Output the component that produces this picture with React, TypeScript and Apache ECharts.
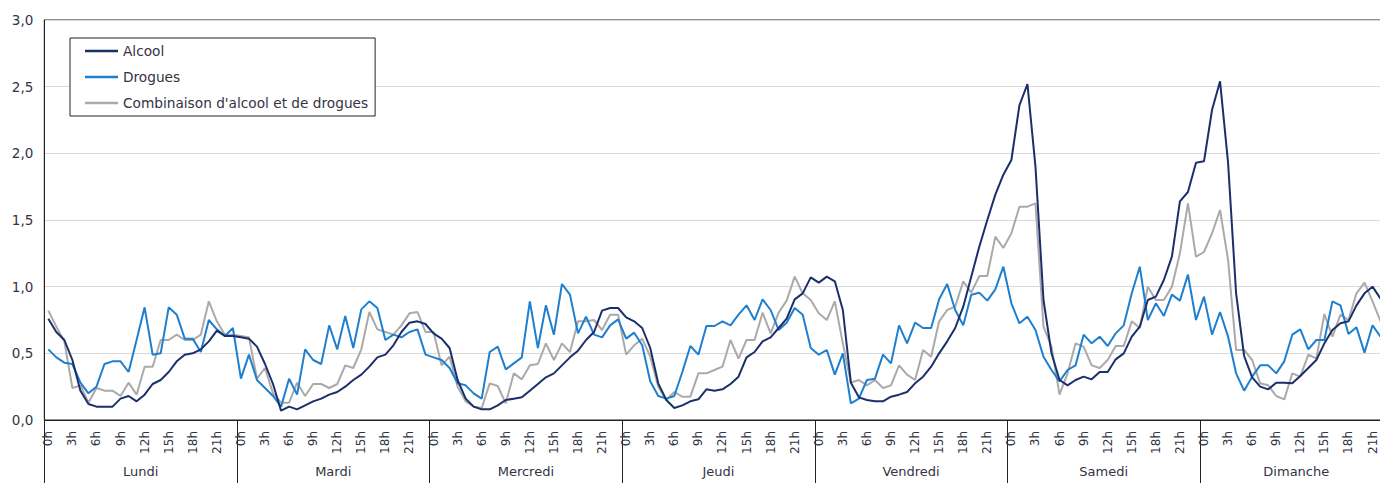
import React, { useEffect, useRef } from "react";
import * as echarts from "echarts";

const DAYS = ["Lundi", "Mardi", "Mercredi", "Jeudi", "Vendredi", "Samedi", "Dimanche"];
const HOURS = ["0h","1h","2h","3h","4h","5h","6h","7h","8h","9h","10h","11h","12h","13h","14h","15h","16h","17h","18h","19h","20h","21h","22h","23h"];
const SERIES_NAMES = ["Alcool", "Drogues", "Combinaison d'alcool et de drogues"];

const ALCOOL = [
  // Lundi
  0.76,0.66,0.60,0.45,0.22,0.12,0.10,0.10,0.10,0.16,0.18,0.14,0.19,0.27,0.30,0.36,0.44,0.49,0.50,0.53,0.59,0.67,0.63,0.63,
  // Mardi
  0.62,0.61,0.55,0.42,0.27,0.07,0.10,0.08,0.11,0.14,0.16,0.19,0.21,0.25,0.30,0.34,0.40,0.47,0.49,0.56,0.66,0.73,0.74,0.72,
  // Mercredi
  0.65,0.61,0.54,0.30,0.16,0.10,0.08,0.08,0.11,0.15,0.16,0.17,0.22,0.27,0.32,0.35,0.41,0.47,0.52,0.60,0.66,0.82,0.84,0.84,
  // Jeudi
  0.77,0.74,0.69,0.54,0.275,0.15,0.09,0.11,0.14,0.155,0.23,0.22,0.23,0.27,0.325,0.47,0.51,0.59,0.62,0.69,0.76,0.905,0.95,1.07,
  // Vendredi
  1.03,1.075,1.04,0.825,0.28,0.17,0.15,0.14,0.14,0.175,0.19,0.21,0.275,0.325,0.40,0.50,0.59,0.69,0.85,1.075,1.30,1.50,1.69,1.84,
  // Samedi
  1.95,2.36,2.52,1.90,0.90,0.50,0.30,0.26,0.30,0.325,0.305,0.36,0.36,0.455,0.50,0.625,0.70,0.90,0.925,1.05,1.225,1.64,1.71,1.93,
  // Dimanche
  1.94,2.325,2.54,1.93,0.95,0.48,0.32,0.25,0.23,0.28,0.28,0.275,0.33,0.39,0.45,0.575,0.675,0.725,0.74,0.86,0.95,1.0,0.91,0.87,
];

const DROGUES = [
  // Lundi
  0.53,0.47,0.43,0.42,0.28,0.20,0.25,0.42,0.44,0.44,0.36,0.60,0.845,0.49,0.50,0.845,0.79,0.61,0.61,0.51,0.75,0.68,0.63,0.69,
  // Mardi
  0.31,0.49,0.30,0.24,0.18,0.10,0.31,0.19,0.53,0.45,0.42,0.71,0.53,0.78,0.54,0.83,0.89,0.84,0.60,0.64,0.62,0.66,0.68,0.49,
  // Mercredi
  0.47,0.45,0.39,0.275,0.26,0.20,0.16,0.51,0.55,0.38,0.425,0.47,0.89,0.54,0.86,0.64,1.02,0.94,0.65,0.775,0.64,0.62,0.71,0.755,
  // Jeudi
  0.61,0.655,0.56,0.29,0.18,0.16,0.18,0.36,0.555,0.49,0.705,0.705,0.74,0.71,0.79,0.86,0.75,0.905,0.825,0.675,0.73,0.84,0.79,0.54,
  // Vendredi
  0.49,0.525,0.34,0.50,0.125,0.16,0.30,0.31,0.49,0.425,0.71,0.575,0.73,0.69,0.69,0.905,1.02,0.825,0.71,0.94,0.955,0.895,0.98,1.15,
  // Samedi
  0.875,0.725,0.775,0.675,0.475,0.375,0.29,0.375,0.41,0.64,0.575,0.625,0.555,0.65,0.71,0.95,1.15,0.75,0.875,0.78,0.94,0.895,1.09,0.75,
  // Dimanche
  0.925,0.64,0.81,0.625,0.35,0.22,0.325,0.41,0.41,0.35,0.44,0.64,0.68,0.53,0.60,0.60,0.89,0.86,0.645,0.695,0.505,0.71,0.625,0.65,
];

const COMBINAISON = [
  // Lundi
  0.82,0.70,0.59,0.24,0.26,0.13,0.24,0.22,0.22,0.18,0.28,0.19,0.40,0.40,0.60,0.60,0.64,0.60,0.60,0.64,0.89,0.74,0.64,0.64,
  // Mardi
  0.63,0.62,0.31,0.39,0.20,0.13,0.13,0.28,0.18,0.27,0.27,0.24,0.27,0.41,0.39,0.53,0.81,0.68,0.66,0.64,0.71,0.80,0.81,0.66,
  // Mercredi
  0.66,0.41,0.475,0.25,0.14,0.10,0.09,0.275,0.255,0.125,0.35,0.305,0.41,0.42,0.575,0.45,0.575,0.51,0.74,0.74,0.75,0.675,0.79,0.79,
  // Jeudi
  0.49,0.56,0.61,0.475,0.25,0.15,0.21,0.175,0.175,0.35,0.35,0.375,0.40,0.60,0.46,0.60,0.60,0.805,0.65,0.805,0.895,1.075,0.95,0.90,
  // Vendredi
  0.80,0.75,0.89,0.575,0.28,0.30,0.26,0.30,0.24,0.26,0.41,0.34,0.30,0.525,0.475,0.74,0.825,0.85,1.04,0.955,1.08,1.08,1.375,1.29,
  // Samedi
  1.40,1.60,1.60,1.625,0.70,0.55,0.19,0.35,0.575,0.55,0.41,0.39,0.45,0.555,0.555,0.74,0.69,1.0,0.90,0.90,1.0,1.25,1.625,1.225,
  // Dimanche
  1.26,1.40,1.575,1.20,0.525,0.525,0.45,0.275,0.26,0.18,0.155,0.35,0.325,0.49,0.46,0.795,0.625,0.79,0.75,0.95,1.03,0.89,0.74,0.70,
];

const FONT = "'DejaVu Sans', Verdana, sans-serif";
const TEXT_COLOR = "#333344";
const COLORS = ["#1b2f6b", "#1f7fcf", "#aaaaaa"];

export default function App() {
  const ref = useRef<HTMLDivElement>(null);

  useEffect(() => {
    if (!ref.current) return;
    const chart = echarts.init(ref.current, undefined, { renderer: "svg" });
    const categories: string[] = [];
    DAYS.forEach(() => HOURS.forEach((h) => categories.push(h)));

    const lineSeries = (name: string, data: number[], color: string, z: number) => ({
      name,
      type: "line",
      data,
      xAxisIndex: 0,
      yAxisIndex: 0,
      symbol: "none",
      showSymbol: false,
      z,
      lineStyle: { color, width: 2 },
      itemStyle: { color },
    });

    chart.setOption({
      animation: false,
      textStyle: { fontFamily: FONT },
      grid: {
        left: 44.3,
        right: 15.4,
        top: 20,
        bottom: 63,
        show: true,
        borderColor: "#222",
        borderWidth: 1,
        backgroundColor: "transparent",
      },
      legend: {
        orient: "vertical",
        left: 70,
        top: 38,
        padding: [6, 7, 6, 15],
        icon: "rect",
        itemWidth: 33,
        itemHeight: 2.5,
        itemGap: 12,
        borderColor: "#222",
        borderWidth: 1,
        backgroundColor: "#fff",
        textStyle: { fontFamily: FONT, fontSize: 13.7, lineHeight: 14, color: TEXT_COLOR },
        data: SERIES_NAMES.map((name, i) => ({ name, itemStyle: { color: COLORS[i] } })),
      },
      xAxis: [
        {
          type: "category",
          data: categories,
          boundaryGap: true,
          position: "bottom",
          axisLine: { show: true, lineStyle: { color: "#222", width: 1 } },
          axisTick: { show: false },
          axisLabel: {
            interval: 2,
            rotate: 90,
            margin: 11,
            fontSize: 12,
            color: TEXT_COLOR,
            fontFamily: FONT,
          },
          splitLine: { show: false },
        },
        {
          type: "category",
          data: DAYS,
          boundaryGap: true,
          position: "bottom",
          axisLine: { show: false },
          axisTick: {
            show: true,
            interval: 0,
            length: 70,
            lineStyle: { color: "#222", width: 1 },
          },
          axisLabel: {
            interval: 0,
            margin: 45,
            fontSize: 13,
            color: TEXT_COLOR,
            fontFamily: FONT,
          },
          splitLine: { show: false },
        },
      ],
      yAxis: {
        type: "value",
        min: 0,
        max: 3,
        interval: 0.5,
        axisLine: { show: true, lineStyle: { color: "#222", width: 1 } },
        axisTick: { show: false },
        axisLabel: {
          margin: 11,
          fontSize: 13.5,
          color: TEXT_COLOR,
          fontFamily: FONT,
          formatter: (v: number) => v.toFixed(1).replace(".", ","),
        },
        splitLine: { show: true, lineStyle: { color: "#d9d9d9", width: 1 } },
      },
      series: [
        lineSeries(SERIES_NAMES[0], ALCOOL, COLORS[0], 4),
        lineSeries(SERIES_NAMES[1], DROGUES, COLORS[1], 3),
        lineSeries(SERIES_NAMES[2], COMBINAISON, COLORS[2], 2),
      ],
    });

    return () => chart.dispose();
  }, []);

  return (
    <div style={{ position: "fixed", left: 0, top: 0, width: 1380, height: 483, overflow: "hidden", background: "#fff" }}>
      <div ref={ref} style={{ width: 1408, height: 483 }} />
    </div>
  );
}
